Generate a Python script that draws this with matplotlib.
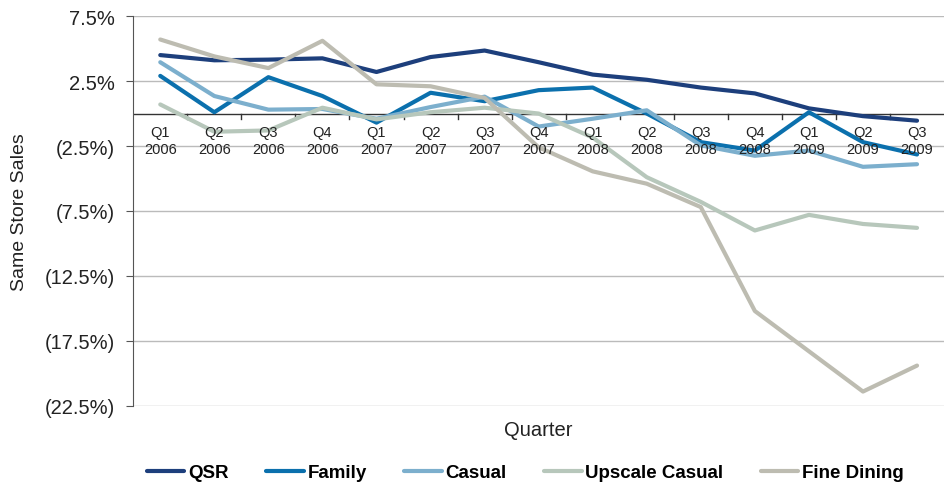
import matplotlib.pyplot as plt
from matplotlib.ticker import FuncFormatter
import matplotlib.transforms as mtransforms

# Quarterly same store sales (%)
quarters = ["Q1\n2006", "Q2\n2006", "Q3\n2006", "Q4\n2006",
            "Q1\n2007", "Q2\n2007", "Q3\n2007", "Q4\n2007",
            "Q1\n2008", "Q2\n2008", "Q3\n2008", "Q4\n2008",
            "Q1\n2009", "Q2\n2009", "Q3\n2009"]

qsr = [4.5, 4.1, 4.15, 4.25, 3.2, 4.35, 4.85, 3.95, 3.0, 2.6, 2.0, 1.55, 0.4, -0.2, -0.55]
family = [2.9, 0.1, 2.8, 1.35, -0.7, 1.6, 0.95, 1.8, 2.0, 0.0, -2.2, -2.85, 0.1, -2.2, -3.15]
casual = [3.95, 1.35, 0.3, 0.35, -0.4, 0.5, 1.3, -1.0, -0.4, 0.25, -2.45, -3.25, -2.85, -4.1, -3.9]
upscale = [0.7, -1.4, -1.3, 0.45, -0.45, 0.1, 0.45, 0.0, -1.85, -4.9, -6.8, -9.0, -7.8, -8.5, -8.8]
fine_dining = [5.7, 4.4, 3.5, 5.6, 2.25, 2.1, 1.2, -2.6, -4.45, -5.4, -7.2, -15.2, -18.3, -21.4, -19.4]

series = [("QSR", qsr, "#1d3f7c"),
          ("Family", family, "#0b70ad"),
          ("Casual", casual, "#7cafcd"),
          ("Upscale Casual", upscale, "#b7c7bb"),
          ("Fine Dining", fine_dining, "#bdbcb1")]

plt.rcParams['font.family'] = ['Liberation Sans', 'DejaVu Sans']

fig = plt.figure(figsize=(9.45, 4.89), dpi=100)
ax = fig.add_axes([0.141, 0.168, 0.858, 0.797])

x = list(range(len(quarters)))
for name, vals, color in series:
    ax.plot(x, vals, color=color, linewidth=3.0, label=name, solid_capstyle='round')

ax.set_xlim(-0.5, len(quarters) - 0.5)
ax.set_ylim(-22.5, 7.5)
yticks = [7.5, 2.5, -2.5, -7.5, -12.5, -17.5, -22.5]
ax.set_yticks(yticks)


def pct(v, pos):
    return f"{v:.1f}%" if v >= 0 else f"({abs(v):.1f}%)"


ax.yaxis.set_major_formatter(FuncFormatter(pct))
ax.tick_params(axis='y', labelsize=14.5, length=5, pad=8, color='#555555', labelcolor='#222222')
ax.grid(axis='y', color='#bbbbbb', linewidth=1)
ax.set_axisbelow(True)

# x axis sits at zero with tick marks between categories
ax.set_xticks([])
ax.spines['top'].set_visible(False)
ax.spines['right'].set_visible(False)
ax.spines['bottom'].set_visible(False)
ax.spines['left'].set_color('#555555')
ax.axhline(0, color='#333333', linewidth=1, zorder=1.5)
for b in range(1, len(quarters)):
    ax.plot([b - 0.5, b - 0.5], [0, -0.45], color='#333333', linewidth=1, zorder=1.5)

trans = mtransforms.offset_copy(ax.transData, fig=fig, y=-8, units='points')
for i, q in enumerate(quarters):
    ax.text(i, 0, q, transform=trans, ha='center', va='top', fontsize=10.5,
            color='#222222', linespacing=1.3)

ax.set_ylabel("Same Store Sales", fontsize=14, color='#222222', labelpad=12)
ax.set_xlabel("Quarter", fontsize=14.5, color='#222222', labelpad=10)

fig.legend(loc='center', bbox_to_anchor=(0.556, 0.031), ncol=5, frameon=False,
           prop={'weight': 'bold', 'size': 13.5}, handlelength=2.0,
           handletextpad=0.2, columnspacing=2.0)

fig.savefig("out.png", dpi=100)
